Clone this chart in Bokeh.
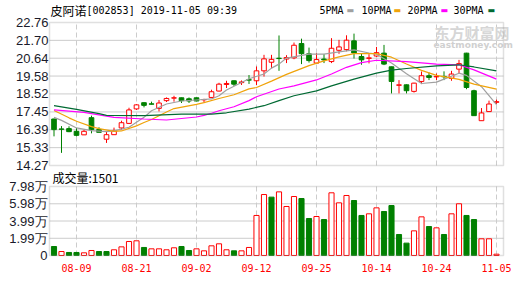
from bokeh.plotting import figure
from bokeh.models import ColumnDataSource, Label, Range1d, BoxAnnotation
from bokeh.embed import file_html
from bokeh.resources import INLINE

# ---------------- data ----------------
dates = ["08-06", "08-07", "08-08", "08-09", "08-12", "08-13", "08-14", "08-15", "08-16", "08-19",
         "08-20", "08-21", "08-22", "08-23", "08-26", "08-27", "08-28", "08-29", "08-30", "09-02",
         "09-03", "09-04", "09-05", "09-06", "09-09", "09-10", "09-11", "09-12", "09-16", "09-17",
         "09-18", "09-19", "09-20", "09-23", "09-24", "09-25", "09-26", "09-27", "09-30", "10-08",
         "10-09", "10-10", "10-11", "10-14", "10-15", "10-16", "10-17", "10-18", "10-21", "10-22",
         "10-23", "10-24", "10-25", "10-28", "10-29", "10-30", "10-31", "11-01", "11-04", "11-05"]

opens = [17.03, 16.44, 16.46, 16.30, 16.09, 17.11, 16.40, 15.83, 16.10, 16.50,
         16.77, 17.63, 18.00, 17.93, 17.66, 18.12, 18.27, 18.29, 18.23, 18.29,
         18.17, 18.31, 18.69, 19.08, 19.30, 19.19, 19.36, 19.30, 19.89, 20.40,
         20.64, 20.59, 20.66, 21.51, 20.90, 20.35, 20.59, 20.44, 21.11, 21.15,
         21.67, 20.74, 20.63, 20.77, 20.94, 20.13, 19.03, 19.06, 18.67, 19.26,
         19.60, 19.53, 19.56, 19.44, 19.99, 20.94, 18.71, 16.93, 17.47, 18.02]
highs = [17.05, 16.61, 16.60, 16.50, 16.38, 17.23, 16.54, 16.32, 16.52, 16.93,
         17.70, 17.92, 18.02, 18.06, 18.16, 18.31, 18.41, 18.30, 18.31, 18.30,
         18.23, 18.77, 19.18, 19.30, 19.32, 19.32, 19.64, 20.15, 20.84, 20.84,
         21.99, 20.82, 21.57, 21.80, 21.27, 20.94, 20.88, 21.83, 21.73, 22.00,
         22.10, 20.94, 20.88, 21.31, 21.43, 20.14, 19.34, 19.08, 19.18, 19.85,
         19.79, 19.73, 19.86, 19.89, 20.54, 20.96, 18.77, 17.68, 18.12, 18.18]
lows = [16.00, 15.02, 16.25, 16.00, 16.09, 16.18, 16.24, 15.61, 16.10, 16.40,
        16.74, 17.57, 17.72, 17.90, 17.48, 18.04, 18.06, 17.98, 17.98, 18.08,
        18.00, 18.27, 18.67, 18.87, 18.99, 19.05, 19.11, 19.05, 19.55, 20.05,
        19.89, 20.35, 20.58, 20.29, 20.38, 20.35, 20.35, 20.35, 20.90, 21.05,
        20.62, 20.25, 20.33, 20.72, 20.23, 18.55, 18.55, 18.55, 18.60, 19.10,
        19.34, 19.34, 19.34, 19.30, 19.70, 18.80, 17.23, 16.93, 17.47, 17.92]
closes = [16.40, 16.42, 16.28, 16.06, 16.30, 16.40, 16.24, 16.10, 16.32, 16.81,
          17.57, 17.87, 17.84, 17.91, 17.98, 18.25, 18.29, 18.12, 18.10, 18.10,
          18.19, 18.65, 19.10, 19.14, 19.10, 19.23, 19.34, 19.89, 20.60, 20.57,
          20.62, 20.68, 21.41, 20.91, 20.50, 20.56, 20.54, 21.23, 21.31, 21.71,
          20.95, 20.54, 20.66, 20.97, 20.29, 19.26, 19.06, 18.71, 19.16, 19.60,
          19.50, 19.56, 19.54, 19.70, 20.32, 18.90, 17.23, 17.39, 17.92, 18.06]
volumes = [10400, 4600, 3500, 3500, 3100, 5800, 4600, 4600, 6600, 10000,
           16200, 17000, 9300, 7700, 7700, 6600, 8900, 10400, 5800, 7700,
           5400, 11200, 13500, 6600, 5400, 5400, 9300, 46300, 70500, 67500,
           73600, 56700, 68200, 65900, 42800, 45100, 41600, 72500, 60900, 69400,
           63600, 46300, 48200, 55100, 50900, 57800, 24300, 14300, 28500, 44700,
           33500, 32000, 24300, 48200, 59800, 46300, 41600, 19300, 19300, 1501]

ma5_idx = [0, 1, 3, 5, 7, 8, 10, 12, 13, 15, 17, 19, 21, 22, 23, 26, 28, 29, 30, 31, 34, 36,
           38, 40, 42, 43, 45, 47, 49, 51, 52, 54, 55, 57, 59]
ma5_val = [17.13, 16.95, 16.50, 16.34, 16.28, 16.33, 16.54, 17.13, 17.52, 17.92, 18.10, 18.16,
           18.22, 18.41, 18.75, 19.42, 19.70, 20.05, 20.29, 20.65, 20.88, 20.88, 21.02, 21.13,
           20.95, 20.88, 20.35, 19.72, 19.14, 19.22, 19.40, 19.75, 19.62, 18.95, 17.88]
ma10_idx = [0, 2, 3, 5, 6, 8, 9, 11, 12, 13, 15, 16, 19, 20, 22, 24, 26, 27, 29, 31, 34, 36,
            38, 40, 43, 45, 47, 49, 51, 54, 56, 59]
ma10_val = [17.54, 17.10, 16.90, 16.58, 16.46, 16.30, 16.32, 16.62, 16.82, 17.00, 17.45, 17.65,
            17.90, 18.00, 18.25, 18.47, 18.82, 18.90, 19.28, 19.68, 20.20, 20.48, 20.72, 20.91,
            20.91, 20.70, 20.30, 19.92, 19.62, 19.38, 19.10, 18.80]
ma20_idx = [0, 4, 8, 12, 15, 19, 20, 21, 22, 24, 26, 27, 30, 32, 35, 37, 39, 41, 43, 47, 51,
            54, 56, 59]
ma20_val = [17.57, 17.42, 17.13, 17.03, 16.97, 17.15, 17.25, 17.37, 17.52, 17.76, 18.12, 18.35,
            18.81, 19.00, 19.35, 19.70, 20.10, 20.38, 20.52, 20.44, 20.29, 20.25, 19.95, 19.40]
ma30_idx = [0, 3, 6, 7, 12, 17, 21, 23, 26, 28, 30, 32, 35, 37, 40, 43, 45, 47, 51, 54, 56, 59]
ma30_val = [17.82, 17.60, 17.35, 17.25, 17.23, 17.32, 17.32, 17.40, 17.62, 17.82, 18.12, 18.41,
            18.70, 19.00, 19.40, 19.75, 19.93, 20.03, 20.19, 20.25, 20.12, 19.89]

price_ticks = [14.27, 15.33, 16.39, 17.45, 18.52, 19.58, 20.64, 21.70, 22.76]
vol_ticks = [0, 19900, 39900, 59800, 79800]
vol_tick_labels = ["0", "1.99万", "3.99万", "5.98万", "7.98万"]
date_labels = ["08-09", "08-21", "09-02", "09-12", "09-25", "10-14", "10-24", "11-05"]
stock_name = "皮阿诺"
stock_info = "[002853] 2019-11-05 09:39"
ma_names = ["5PMA", "10PMA", "20PMA", "30PMA"]
volume_caption = "成交量:1501"

# ---------------- styling / layout (pixels) ----------------
W, H = 516, 284
RED = "#ff0000"
GREEN = "#008000"
MA_COLORS = ["#a0a0a0", "#f0a30a", "#ff00ff", "#006a33"]
GRID = "#cccccc"
FRAME = "#999999"
LABEL_COLOR = "#1a1a2a"
PX_PER_SLOT = 7.5
FIRST_SLOT_X = 53.5                  # canvas x of the first candle
BOX_X = (49, 503)                    # canvas x of both panel borders
PRICE_Y = (22, 165)                  # canvas y of price top / bottom tick
VOL_Y = (186, 255)                   # canvas y of volume top / bottom tick

n = len(dates)
xs = list(range(n))
up = [c > o for o, c in zip(opens, closes)]
vol_up = [up[0]] + [closes[i] >= closes[i - 1] for i in range(1, n)]
date_ticks = [dates.index(d) for d in date_labels]

src = ColumnDataSource(dict(
    x=xs, h=highs, l=lows,
    top=[max(o, c) for o, c in zip(opens, closes)],
    bot=[min(o, c) for o, c in zip(opens, closes)],
    col=[RED if u else GREEN for u in up],
    fill=["white" if u else GREEN for u in up],
))
vsrc = ColumnDataSource(dict(
    x=xs, v=volumes,
    col=[RED if u else GREEN for u in vol_up],
    fill=["white" if u else GREEN for u in vol_up],
))


def x_of_px(px):
    return (px - FIRST_SLOT_X) / PX_PER_SLOT


def y_range_for(lo, hi, y_top_px, y_bot_px):
    per_px = (hi - lo) / (y_bot_px - y_top_px)
    return Range1d(lo - (H - y_bot_px) * per_px, hi + y_top_px * per_px)


p_lo, p_hi = price_ticks[0], price_ticks[-1]
v_lo, v_hi = vol_ticks[0], vol_ticks[-1]

p = figure(width=W, height=H, x_range=Range1d(x_of_px(0), x_of_px(W)),
           y_range=y_range_for(p_lo, p_hi, *PRICE_Y),
           output_backend="svg", toolbar_location=None,
           x_axis_location=None, y_axis_location=None,
           min_border_left=0, min_border_right=0, min_border_top=0, min_border_bottom=0)
p.extra_y_ranges = {"vol": y_range_for(v_lo, v_hi, *VOL_Y)}
p.outline_line_color = None
p.background_fill_color = "white"
p.border_fill_color = "white"
p.grid.visible = False

bx0, bx1 = x_of_px(BOX_X[0]), x_of_px(BOX_X[1])


def lab(cx, cy, text, font, size, color, bold=False, align="left"):
    p.add_layout(Label(x=cx, y=H - cy, x_units="screen", y_units="screen", text=text,
                       text_font=font, text_font_size=f"{size}px", text_color=color,
                       text_font_style="bold" if bold else "normal",
                       text_baseline="middle", text_align=align))


# ---- grid lines (from tick lists) ----
inner_p = price_ticks[1:-1]
p.segment(x0=[bx0] * len(inner_p), x1=[bx1] * len(inner_p), y0=inner_p, y1=inner_p,
          line_color=GRID, line_width=1)
inner_v = vol_ticks[1:-1]
p.segment(x0=[bx0] * len(inner_v), x1=[bx1] * len(inner_v), y0=inner_v, y1=inner_v,
          line_color=GRID, line_width=1, y_range_name="vol")
k = len(date_ticks)
p.segment(x0=date_ticks, x1=date_ticks, y0=[p_lo] * k, y1=[p_hi] * k,
          line_color=GRID, line_width=1, line_dash="5 3")
p.segment(x0=date_ticks, x1=date_ticks, y0=[v_lo] * k, y1=[v_hi] * k,
          line_color=GRID, line_width=1, line_dash="5 3", y_range_name="vol")

# ---- watermark ----
lab(434, 32, "东方财富网", "Noto Sans CJK SC", 15, "#d6d6d6", bold=True)
lab(433, 44, "eastmoney.com", "DejaVu Sans", 9, "#d0d0d0", bold=True)

# ---- candles ----
p.segment(x0="x", y0="l", x1="x", y1="h", line_color="col", line_width=1, source=src)
p.vbar(x="x", width=0.62, top="top", bottom="bot", fill_color="fill", line_color="col",
       line_width=1, source=src)
for idx, val, c in zip([ma5_idx, ma10_idx, ma20_idx, ma30_idx],
                       [ma5_val, ma10_val, ma20_val, ma30_val], MA_COLORS):
    p.line(idx, val, line_color=c, line_width=1.2)

# ---- volume ----
p.vbar(x="x", width=0.68, top="v", bottom=0, fill_color="fill", line_color="col",
       line_width=1, source=vsrc, y_range_name="vol")

# ---- panel borders ----
p.add_layout(BoxAnnotation(left=bx0, right=bx1, bottom=p_lo, top=p_hi,
                           fill_alpha=0, line_color=FRAME, line_width=1.5))
p.add_layout(BoxAnnotation(left=bx0, right=bx1, bottom=v_lo, top=v_hi, y_range_name="vol",
                           fill_alpha=0, line_color=FRAME, line_width=1.5))

# ---- tick labels ----
for t in price_ticks:
    p.add_layout(Label(x=BOX_X[0] - 1, y=t, x_units="screen", y_units="data",
                       text=f"{t:.2f}", text_font="Liberation Sans", text_font_size="13px",
                       text_color=LABEL_COLOR, text_align="right", text_baseline="middle"))
for t, s in zip(vol_ticks, vol_tick_labels):
    p.add_layout(Label(x=BOX_X[0] - 2, y=t, x_units="screen", y_units="data",
                       y_range_name="vol", text=s, text_font="Liberation Sans",
                       text_font_size="13px", text_color=LABEL_COLOR, text_align="right",
                       text_baseline="middle"))
for i in date_ticks:
    p.add_layout(Label(x=i, y=H - 267, x_units="data", y_units="screen", text=dates[i],
                       text_font="DejaVu Sans Mono", text_font_size="10px", text_color=RED,
                       text_align="center", text_baseline="middle"))

# ---- header texts ----
lab(50, 10, stock_name, "Noto Sans CJK SC", 12, "#000000")
lab(86, 10, stock_info, "DejaVu Sans Mono", 10, "#000000")
leg_text_x = [319, 361, 407, 453]
leg_dash_x = [346, 393, 440, 487]
for name, c, tx, dx in zip(ma_names, MA_COLORS, leg_text_x, leg_dash_x):
    lab(tx, 10, name, "DejaVu Sans Mono", 10, "#000000")
    lab(dx, 10, "\u25ac", "DejaVu Sans", 8, c)
lab(52, 177, volume_caption, "Noto Sans CJK SC", 12, "#000000")

open("out.html", "w").write(file_html(p, INLINE))
